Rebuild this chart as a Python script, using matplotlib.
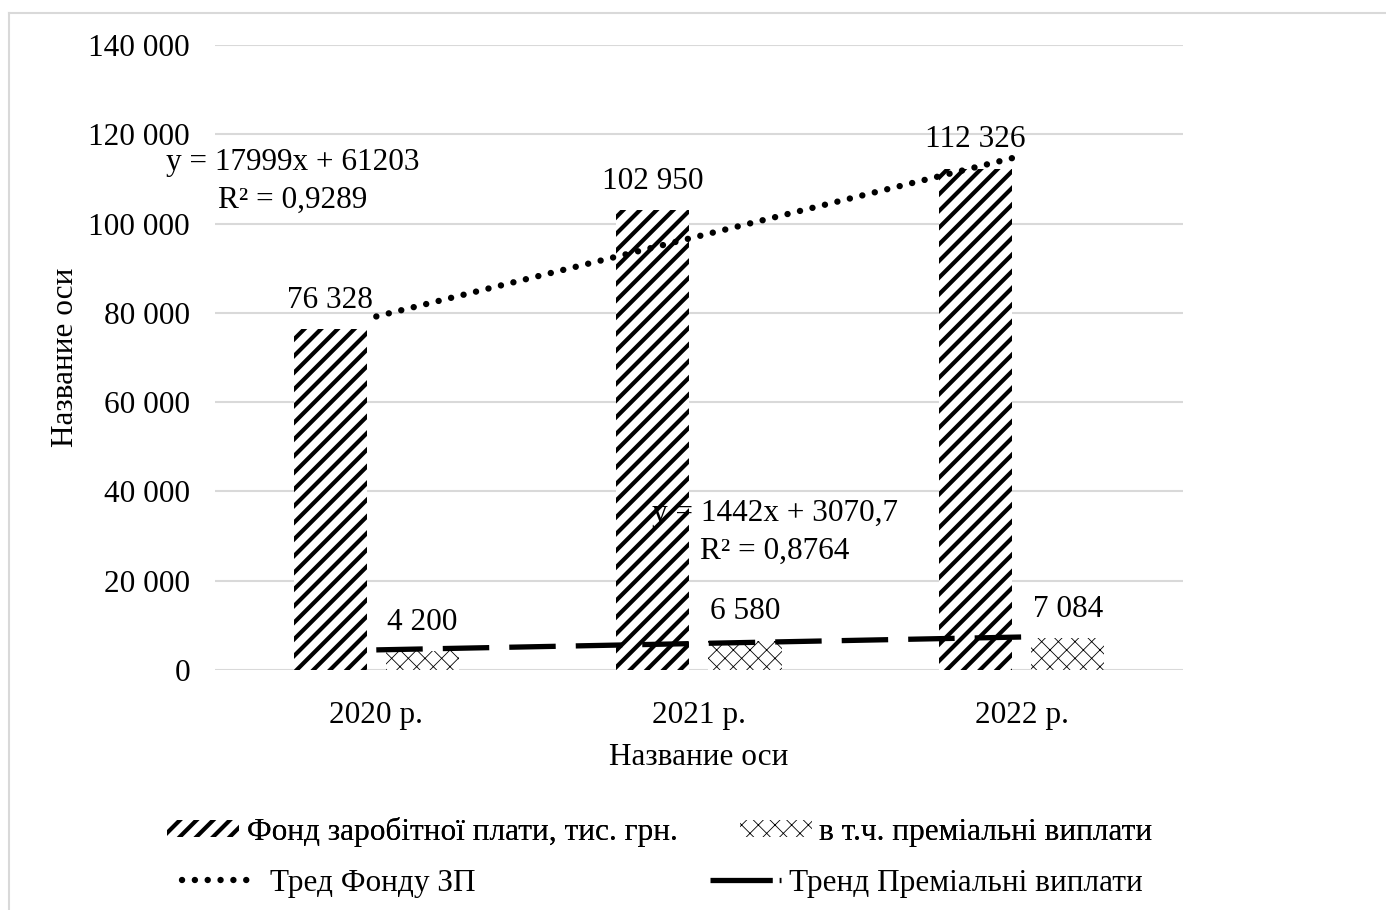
import numpy as np
import matplotlib
matplotlib.use("Agg")
import matplotlib.pyplot as plt
from matplotlib.lines import Line2D

plt.rcParams['font.family'] = ['Liberation Serif', 'DejaVu Serif']
plt.rcParams['font.size'] = 22.5

# Data
years = ['2020 р.', '2021 р.', '2022 р.']
fund = [76328, 102950, 112326]
bonus = [4200, 6580, 7084]
fund_label = 'Фонд заробітної плати, тис. грн.'
bonus_label = 'в т.ч. преміальні виплати'
fund_trend_label = ' Тред Фонду ЗП'
bonus_trend_label = 'Тренд Преміальні виплати'
axis_title = 'Название оси'
yticks = [0, 20000, 40000, 60000, 80000, 100000, 120000, 140000]

HATCH_FUND = 3.0
HATCH_BONUS = 0.6


def fmt(v):
    return f'{v:,}'.replace(',', ' ')


def linfit(vals):
    xs = np.arange(1, len(vals) + 1)
    k, b = np.polyfit(xs, vals, 1)
    pred = k * xs + b
    r2 = 1 - np.sum((np.array(vals) - pred) ** 2) / np.sum((np.array(vals) - np.mean(vals)) ** 2)
    return k, b, r2, pred


def set_hlw(patch, lw):
    if hasattr(patch, 'set_hatch_linewidth'):
        patch.set_hatch_linewidth(lw)


fig = plt.figure(figsize=(13.86, 9.1), dpi=100)
ax = fig.add_axes([0.1551, 0.2637, 0.6984, 0.6868])

x = np.arange(len(years))
w = 0.227
off = 0.143

plt.rcParams['hatch.linewidth'] = HATCH_FUND
b1 = ax.bar(x - off, fund, w, color='white', edgecolor='black', linewidth=0,
            hatch='//', label=fund_label, zorder=2)
plt.rcParams['hatch.linewidth'] = HATCH_BONUS
b2 = ax.bar(x + off, bonus, w, color='white', edgecolor='black', linewidth=0,
            hatch='xx', label=bonus_label, zorder=2)
for p in b1:
    set_hlw(p, HATCH_FUND)
for p in b2:
    set_hlw(p, HATCH_BONUS)

# trend lines
k1, c1, r1, p1 = linfit(fund)
k2, c2, r2, p2 = linfit(bonus)
dot_style = dict(color='black', lw=4.6, linestyle=(0, (0.01, 2.0)),
                 dash_capstyle='round')
ax.plot(x, p1, zorder=3, **dot_style)
ax.plot(x, p2, color='black', lw=3.8, linestyle=(0, (8.8, 3.8)), zorder=3)

# data labels
for xi, v in zip(x - off, fund):
    ax.annotate(fmt(v), (xi, v), xytext=(0, 21), textcoords='offset points',
                ha='center', va='center', zorder=4)
for xi, v in zip(x + off, bonus):
    ax.annotate(fmt(v), (xi, v), xytext=(0, 21), textcoords='offset points',
                ha='center', va='center', zorder=4)

# equations
ax.text(-0.258, 109400, f'y = {k1:.0f}x + {c1:.0f}\nR² = {r1:.4f}'.replace('.', ','),
        ha='center', va='center', linespacing=1.4, zorder=4)
ax.text(1.235, 30800, f'y = {k2:.0f}x + {c2:.1f}\nR² = {r2:.4f}'.replace('.', ','),
        ha='center', va='center', linespacing=1.4, zorder=4)

ax.set_xlim(-0.5, 2.5)
ax.set_ylim(0, 140000)
ax.set_yticks(yticks)
ax.set_yticklabels([fmt(v) for v in yticks])
ax.set_xticks(x)
ax.set_xticklabels(years)
ax.tick_params(length=0)
ax.tick_params(axis='y', pad=18)
ax.tick_params(axis='x', pad=22)
ax.grid(axis='y', color='#d9d9d9', lw=1.5, zorder=0)
ax.set_axisbelow(True)
for s in ax.spines.values():
    s.set_visible(False)
ax.set_xlabel(axis_title, labelpad=10)
ax.set_ylabel(axis_title, labelpad=6)

# legends
h_dot = Line2D([], [], **dot_style)
h_dash = Line2D([], [], color='black', lw=3.8, linestyle=(0, (11.8, 1.3)))
leg1 = fig.legend([b1, b2], [fund_label, bonus_label], loc='center',
                  bbox_to_anchor=(0.476, 0.086), ncol=2, frameon=False,
                  fontsize=22.5, handlelength=2.3, handleheight=0.45,
                  handletextpad=0.25, columnspacing=2.0)
set_hlw(leg1.legend_handles[0], HATCH_FUND)
set_hlw(leg1.legend_handles[1], HATCH_BONUS)
fig.legend([h_dot, h_dash], [fund_trend_label, bonus_trend_label], loc='center',
           bbox_to_anchor=(0.478, 0.029), ncol=2, frameon=False,
           fontsize=22.5, handlelength=2.3, handletextpad=0.25, columnspacing=7.5)
fig.add_artist(leg1)

# outer frame (left and top edges)
fig.add_artist(Line2D([0.0065, 0.0065], [0, 0.9857], color='#d9d9d9', lw=1.5))
fig.add_artist(Line2D([0.0065, 1], [0.9857, 0.9857], color='#d9d9d9', lw=1.5))

fig.savefig('out.png', dpi=100)
